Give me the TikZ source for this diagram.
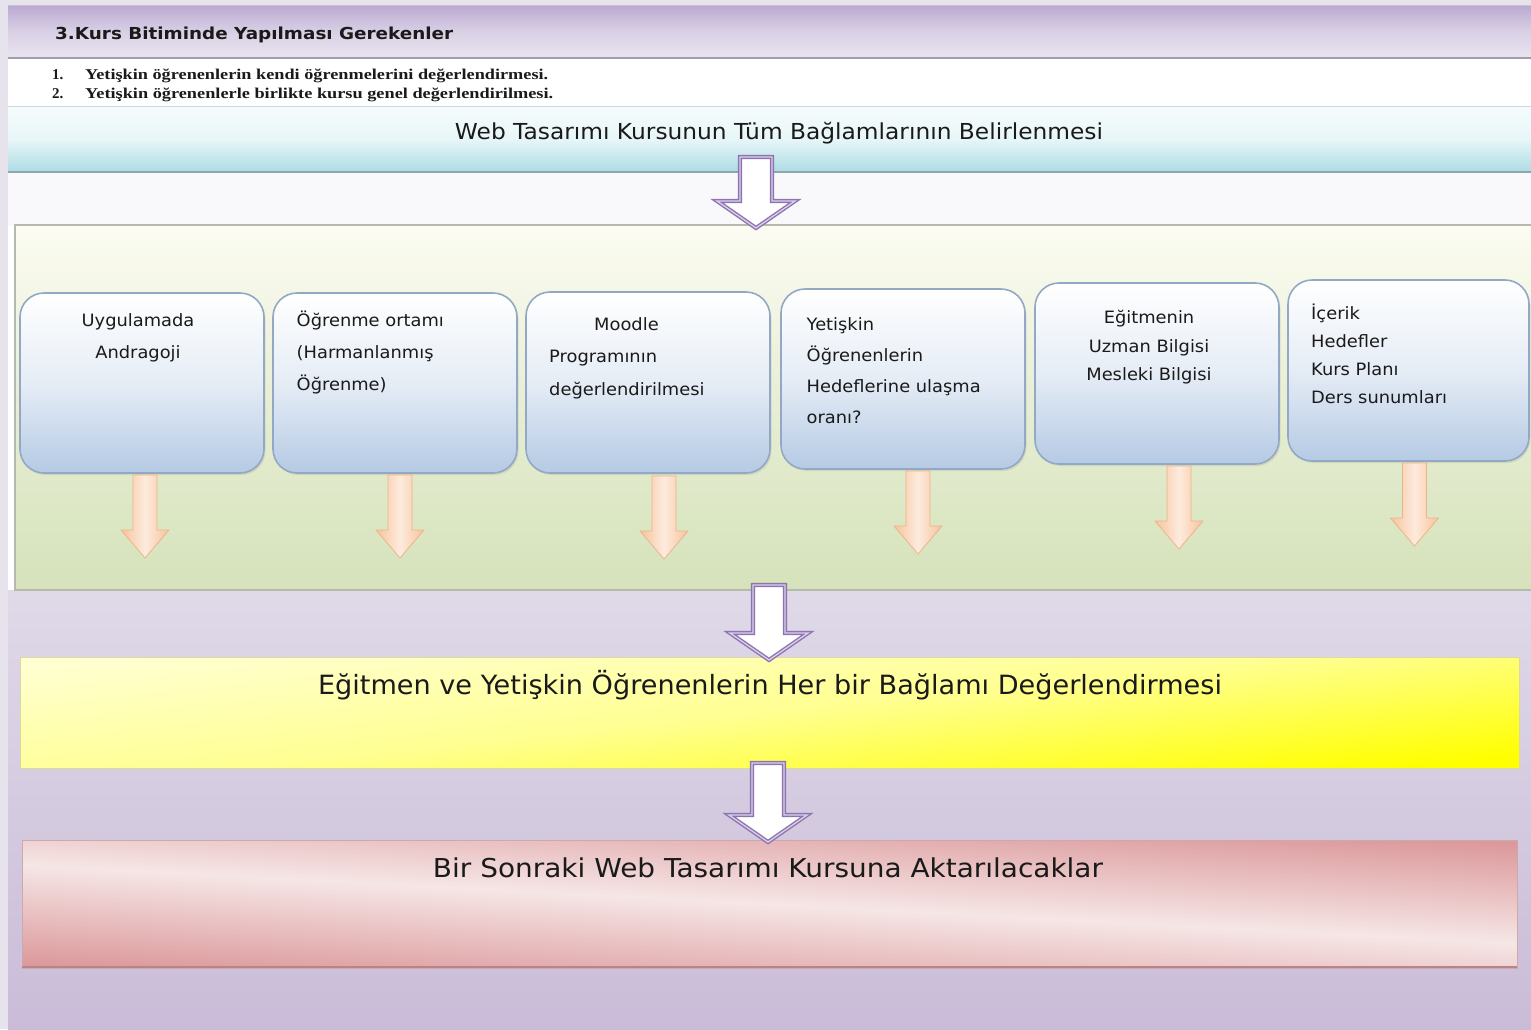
\documentclass[tikz,border=0pt]{standalone}
\usepackage{fontspec}
\usepackage{graphicx}
\setmainfont{DejaVu Sans}
\newfontfamily\boxfont[FakeStretch=1.05]{DejaVu Sans}
\newfontfamily\listfont{Liberation Serif}
\usetikzlibrary{shadows,calc}
\newcommand\fitw[2]{\resizebox{#1}{\height}{#2}}
\newcommand\fstrut{\rule{0pt}{16pt}}
\definecolor{leftstrip}{HTML}{E6E3EC}
\definecolor{hdrtop}{HTML}{BBA9D1}
\definecolor{hdrmid}{HTML}{D9D0E5}
\definecolor{hdrbot}{HTML}{E9E4F0}
\definecolor{hdrline}{HTML}{A29CA8}
\definecolor{cyantop}{HTML}{F6FCFD}
\definecolor{cyanbot}{HTML}{ADDCE4}
\definecolor{cyanline}{HTML}{8DA8AE}
\definecolor{gaptone}{HTML}{F9F9FC}
\definecolor{greentop}{HTML}{FCFCF2}
\definecolor{greenbot}{HTML}{D5E2BA}
\definecolor{greenline}{HTML}{B6BAAE}
\definecolor{boxbot}{HTML}{B5CAE4}
\definecolor{boxline}{HTML}{93A8C4}
\definecolor{lavtop}{HTML}{DFD9E8}
\definecolor{lavbot}{HTML}{CABCD8}
\definecolor{arrpurple}{HTML}{8C74AE}
\definecolor{arrlight}{HTML}{DCD0EC}
\definecolor{peachdark}{HTML}{F7C39B}
\definecolor{peachlight}{HTML}{FDEBDD}
\definecolor{peachline}{HTML}{EDB48C}
\definecolor{yelpale}{HTML}{FFFFD0}
\definecolor{yelstrong}{HTML}{FFFF00}
\definecolor{yelline}{HTML}{D9D9A0}
\definecolor{pinkdark}{HTML}{DC9A9C}
\definecolor{pinklight}{HTML}{F6E6E6}
\definecolor{pinkline}{HTML}{B98387}
\definecolor{inkgrey}{HTML}{1A1A1A}
\begin{document}
\begin{tikzpicture}[x=1pt,y=-1pt,
  area/.style={rectangle, inner sep=0pt, outer sep=0pt, anchor=north west},
  card/.style={area, rounded corners=24pt, draw=boxline, line width=1.6pt,
    top color=white, bottom color=boxbot, middle color=boxbot!35!white,
    minimum width=244pt, minimum height=180pt,
    drop shadow={opacity=0.18, shadow xshift=1.5pt, shadow yshift=-2pt}},
  cardtext/.style={inner sep=0pt, text=inkgrey},
  bigtext/.style={inner sep=0pt, anchor=base, text=inkgrey},
  pics/oarrow/.style={code={
    \path[draw=peachline, line width=0.8pt, line join=round,
      left color=peachdark, right color=peachdark, middle color=peachlight]
      (-12,0) -- (12,0) -- (12,{#1-28}) -- (24,{#1-28}) -- (0,#1)
      -- (-24,{#1-28}) -- (-12,{#1-28}) -- cycle;}},
  pics/parrow/.style={code={
    \path[draw=arrpurple, double=arrlight, double distance=1.3pt, line width=1.4pt,
      fill=white, line join=miter]
      (-16,{-#1}) -- (16,{-#1}) -- (16,-27) -- (39,-27) -- (0,0)
      -- (-39,-27) -- (-16,-27) -- cycle;}}
]
\useasboundingbox (0,0) rectangle (1531,1029);
% page background
\fill[white] (0,0) rectangle (1531,1029);
\fill[gaptone] (8,172) rectangle (1531,226);
\shade[top color=lavtop, bottom color=lavbot] (8,590) rectangle (1531,1029);
\fill[leftstrip] (0,0) rectangle (8,1029);
\fill[leftstrip] (0,0) rectangle (1531,5);

% header band
\node[area, minimum width=1523pt, minimum height=53pt,
  top color=hdrtop, bottom color=hdrbot, middle color=hdrmid] (hdr) at (8,5) {};
\draw[hdrline!60, line width=0.8pt] (hdr.north west) -- (hdr.north east);
\draw[hdrline, line width=2pt] (hdr.south west) -- (hdr.south east);
\node[bigtext, anchor=base west, font=\bfseries\fontsize{16.5}{18}\selectfont] (hdrtxt) at (55,39)
  {\fitw{398pt}{3.Kurs Bitiminde Yapılması Gerekenler}};

% numbered list
\node[bigtext, anchor=base west, font=\listfont\bfseries\fontsize{15}{17}\selectfont] (n1) at (52,79) {1.};
\node[bigtext, anchor=base west, font=\listfont\bfseries\fontsize{15}{17}\selectfont] (l1) at (85,79)
  {\fitw{463pt}{Yetişkin öğrenenlerin kendi öğrenmelerini değerlendirmesi.}};
\node[bigtext, anchor=base west, font=\listfont\bfseries\fontsize{15}{17}\selectfont] (n2) at (52,98) {2.};
\node[bigtext, anchor=base west, font=\listfont\bfseries\fontsize{15}{17}\selectfont] (l2) at (85,98)
  {\fitw{468pt}{Yetişkin öğrenenlerle birlikte kursu genel değerlendirilmesi.}};

% cyan band
\node[area, minimum width=1523pt, minimum height=66pt,
  top color=cyantop, bottom color=cyanbot, middle color=cyantop!80!cyanbot] (webband) at (8,106) {};
\draw[cyanline!45, line width=1pt] (webband.north west) -- (webband.north east);
\draw[cyanline, line width=2pt] (webband.south west) -- (webband.south east);
\node[bigtext, font=\fontsize{22}{26}\selectfont] (webtxt) at (779,139)
  {\fitw{648pt}{Web Tasarımı Kursunun Tüm Bağlamlarının Belirlenmesi}};

% green panel
\node[area, minimum width=1525pt, minimum height=365pt, draw=greenline, line width=1.2pt,
  top color=greentop, bottom color=greenbot, middle color=greentop!45!greenbot] (panel) at (15,225) {};

% cards
\node[card] (b1) at (20,293) {};
\node[card] (b2) at (273,293) {};
\node[card, minimum height=181pt] (b3) at (526,292) {};
\node[card] (b4) at (781,289) {};
\node[card, minimum height=181pt] (b5) at (1035,283) {};
\node[card, minimum width=241pt, minimum height=181pt] (b6) at (1288,280) {};

\node[cardtext, anchor=north, align=center, font=\boxfont\fontsize{17}{31.6}\selectfont] (t1) at (138,310.7)
  {\fstrut Uygulamada\\Andragoji};
\node[cardtext, anchor=north west, align=left, font=\boxfont\fontsize{17}{31.7}\selectfont] (t2) at (296.5,310.7)
  {\fstrut Öğrenme ortamı\\(Harmanlanmış\\Öğrenme)};
\node[cardtext, anchor=north west, align=left, font=\boxfont\fontsize{17}{32.5}\selectfont] (t3) at (549,314)
  {\fstrut\hspace*{45pt}Moodle\\Programının\\değerlendirilmesi};
\node[cardtext, anchor=north west, align=left, font=\boxfont\fontsize{17}{31}\selectfont] (t4) at (806.5,314)
  {\fstrut Yetişkin\\Öğrenenlerin\\Hedeflerine ulaşma\\oranı?};
\node[cardtext, anchor=north, align=center, font=\boxfont\fontsize{17}{28.5}\selectfont] (t5) at (1149,307.5)
  {\fstrut Eğitmenin\\Uzman Bilgisi\\Mesleki Bilgisi};
\node[cardtext, anchor=north west, align=left, font=\boxfont\fontsize{17}{28}\selectfont] (t6) at (1311,303)
  {\fstrut İçerik\\Hedefler\\Kurs Planı\\Ders sunumları};

% orange arrows below cards
\pic at ($(b1.south)+(3,2)$) {oarrow=83};
\pic at ($(b2.south)+(5,2)$) {oarrow=83};
\pic at ($(b3.south)+(16,3)$) {oarrow=83};
\pic at ($(b4.south)+(15,2)$) {oarrow=83};
\pic at ($(b5.south)+(22,2)$) {oarrow=83};
\pic at ($(b6.south)+(6,2)$) {oarrow=83};

% yellow band
\node[area, minimum width=1499pt, minimum height=111pt, draw=yelline, line width=0.8pt,
  shading=axis, top color=yelpale, bottom color=yelstrong, middle color=yelpale!70!yelstrong, shading angle=6] (yel) at (20,657) {};
\node[bigtext, font=\fontsize{26.5}{30}\selectfont] (yeltxt) at (770,694)
  {\fitw{904pt}{Eğitmen ve Yetişkin Öğrenenlerin Her bir Bağlamı Değerlendirmesi}};

% pink band
\node[area, minimum width=1495pt, minimum height=128pt, draw=pinkline!70, line width=0.8pt,
  shading=axis, top color=pinkdark, bottom color=pinkdark, middle color=pinklight, shading angle=-3] (pink) at (22,840) {};
\draw[pinkline, line width=2.5pt] ($(pink.south west)+(0,-1)$) -- ($(pink.south east)+(0,-1)$);
\node[bigtext, font=\fontsize{26}{30}\selectfont] (pinktxt) at (768,877)
  {\fitw{670pt}{Bir Sonraki Web Tasarımı Kursuna Aktarılacaklar}};

% hollow purple arrows between stages
\pic at ($(panel.north west)+(741,3)$) {parrow=71};
\pic at ($(yel.north west)+(749,3)$) {parrow=75};
\pic at ($(pink.north west)+(746,2)$) {parrow=79};
\end{tikzpicture}
\end{document}
